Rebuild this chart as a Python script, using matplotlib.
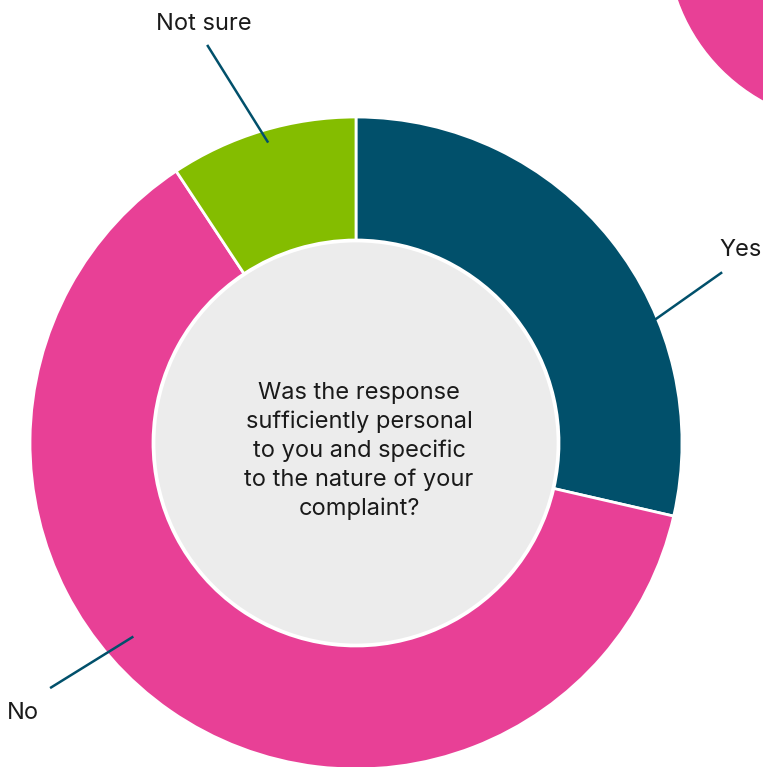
import numpy as np
import matplotlib
matplotlib.use("Agg")
import matplotlib.pyplot as plt
from matplotlib.patches import Circle

# survey answers (percent of respondents)
answers = ["Yes", "No", "Not sure"]
shares = [28.6, 62.1, 9.3]
colours = ["#01506b", "#e84096", "#84bd00"]
question = "Was the response\nsufficiently personal\nto you and specific\nto the nature of your\ncomplaint?"

# leader line layout: (start angle, start radius, end angle, end radius) in deg / px
leaders = {
    "Yes": (22.4, 323, 25.0, 404),
    "No": (221.0, 295, 218.7, 392),
    "Not sure": (106.3, 313, 110.5, 425),
}
label_pos = {"Yes": (741, 517), "No": (23, 54), "Not sure": (204, 743)}

W, H = 763, 767
cx, cy = 356, 324
R_out, R_in = 326, 203
line_col = "#01506b"

plt.rcParams['font.family'] = ['Inter', 'DejaVu Sans']

fig = plt.figure(figsize=(W / 100, H / 100), dpi=100)
ax = fig.add_axes([0, 0, 1, 1])
ax.set_xlim(0, W)
ax.set_ylim(0, H)
ax.set_aspect('equal')
ax.axis('off')

# decorative blob in the corner
ax.add_patch(Circle((853, H + 62), 185, color="#e84096", zorder=0))

ax.pie(shares, colors=colours, radius=R_out, center=(cx, cy),
       startangle=90, counterclock=False,
       wedgeprops=dict(width=R_out - R_in, edgecolor="white", linewidth=2))
ax.set_xlim(0, W)
ax.set_ylim(0, H)
ax.add_patch(Circle((cx, cy), R_in - 1, facecolor="#ececec", edgecolor="white",
                    linewidth=2, zorder=3))

ax.text(cx + 3, cy - 8, question, ha="center", va="center", fontsize=17,
        color="#1a1a1a", linespacing=1.38, zorder=4)

for name in answers:
    a0, r0, a1, r1 = leaders[name]
    x0 = cx + r0 * np.cos(np.radians(a0))
    y0 = cy + r0 * np.sin(np.radians(a0))
    x1 = cx + r1 * np.cos(np.radians(a1))
    y1 = cy + r1 * np.sin(np.radians(a1))
    ax.plot([x0, x1], [y0, y1], color=line_col, linewidth=1.8, zorder=5,
            solid_capstyle="butt")
    lx, ly = label_pos[name]
    ax.text(lx, ly, name, ha="center", va="center", fontsize=17, color="#1a1a1a", zorder=5)

fig.savefig("out.png", dpi=100)
